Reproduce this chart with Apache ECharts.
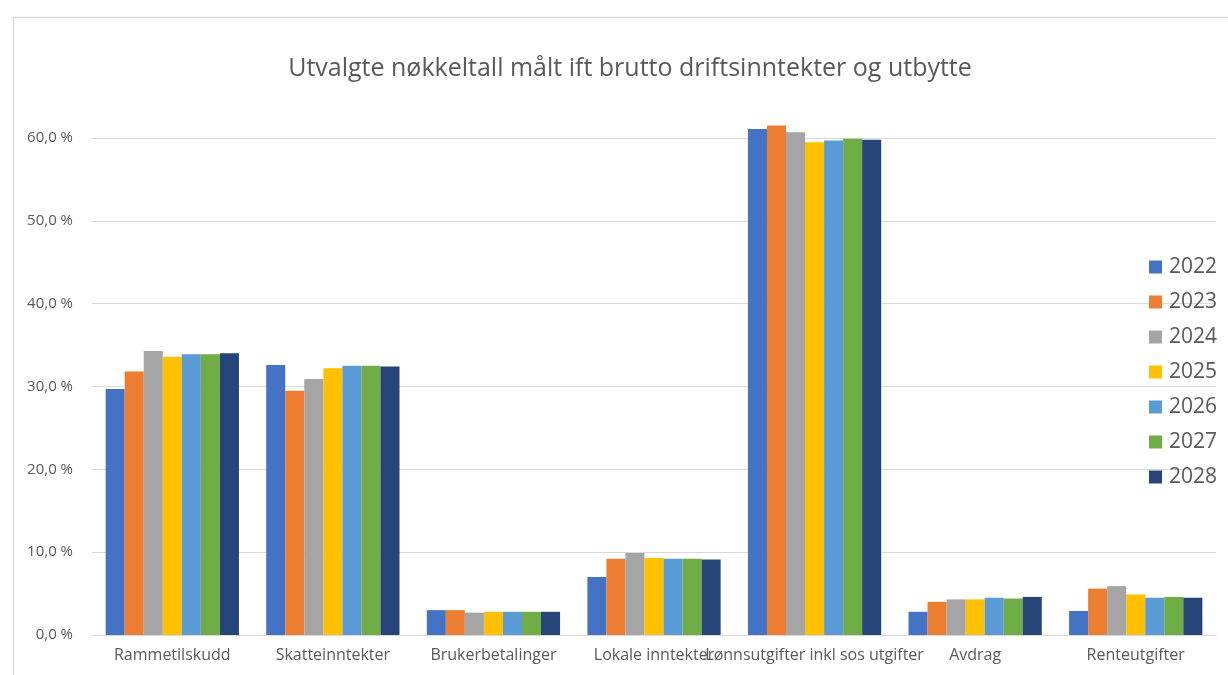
<!DOCTYPE html>
<html>
<head>
<meta charset="utf-8">
<script src="https://cdn.jsdelivr.net/npm/echarts@6/dist/echarts.min.js"></script>
<style>
html,body{margin:0;padding:0;background:#fff;}
#chart{width:1228px;height:675px;}
</style>
</head>
<body>
<div id="chart"></div>
<script>
const categories = ['Rammetilskudd','Skatteinntekter','Brukerbetalinger','Lokale inntekter','Lønnsutgifter inkl sos utgifter','Avdrag','Renteutgifter'];
const years = ['2022','2023','2024','2025','2026','2027','2028'];
const v2022 = [29.7, 32.6, 3.0, 7.0, 61.1, 2.8, 2.9];
const v2023 = [31.8, 29.5, 3.0, 9.2, 61.5, 4.0, 5.6];
const v2024 = [34.3, 30.9, 2.7, 9.9, 60.7, 4.3, 5.9];
const v2025 = [33.6, 32.2, 2.8, 9.3, 59.5, 4.3, 4.9];
const v2026 = [33.9, 32.5, 2.8, 9.2, 59.7, 4.5, 4.5];
const v2027 = [33.9, 32.5, 2.8, 9.2, 59.9, 4.4, 4.6];
const v2028 = [34.0, 32.4, 2.8, 9.1, 59.8, 4.6, 4.5];
const yTicks = [0, 10, 20, 30, 40, 50, 60];
const colors = ['#4472C4','#ED7D31','#A5A5A5','#FFC000','#5B9BD5','#70AD47','#264478'];
const seriesValues = [v2022, v2023, v2024, v2025, v2026, v2027, v2028];

const chart = echarts.init(document.getElementById('chart'));
const font = '"Open Sans", "Liberation Sans", sans-serif';
chart.setOption({
  animation: false,
  color: colors,
  textStyle: {fontFamily: font},
  title: {
    text: 'Utvalgte nøkkeltall målt ift brutto driftsinntekter og utbytte',
    left: 625, top: 51, textAlign: 'center',
    textStyle: {fontFamily: font, fontSize: 25, fontWeight: 'normal', color: '#595959'}
  },
  graphic: [{
    type: 'rect', left: 11, top: 15, silent: true,
    shape: {width: 1300, height: 700},
    style: {fill: 'none', stroke: '#d9d9d9', lineWidth: 1.5}
  }],
  legend: {
    orient: 'vertical', left: 1144, top: 250,
    itemWidth: 13, itemHeight: 13, itemGap: 11,
    icon: 'rect',
    textStyle: {fontFamily: font, fontSize: 21, lineHeight: 24, color: '#595959', padding: [0, 0, 0, 2]},
    data: years
  },
  grid: {left: 92, right: 12, top: 138, bottom: 40, containLabel: false},
  xAxis: {
    type: 'category', data: categories,
    axisTick: {show: false},
    axisLine: {lineStyle: {color: '#d9d9d9', width: 1}},
    axisLabel: {interval: 0, hideOverlap: false, color: '#595959', fontSize: 16, margin: 12, fontFamily: font}
  },
  yAxis: {
    type: 'value', min: yTicks[0], max: yTicks[yTicks.length-1], interval: 10,
    axisLine: {show: false}, axisTick: {show: false},
    splitLine: {lineStyle: {color: '#d9d9d9', width: 1}},
    axisLabel: {color: '#595959', fontSize: 15, margin: 19, fontFamily: font,
      formatter: v => v.toFixed(1).replace('.', ',') + ' %'}
  },
  series: years.map((y, i) => ({
    name: y, type: 'bar', data: seriesValues[i],
    barGap: '0%', barCategoryGap: '17%', clip: false,
    itemStyle: {color: colors[i]}
  }))
});
</script>
</body>
</html>
